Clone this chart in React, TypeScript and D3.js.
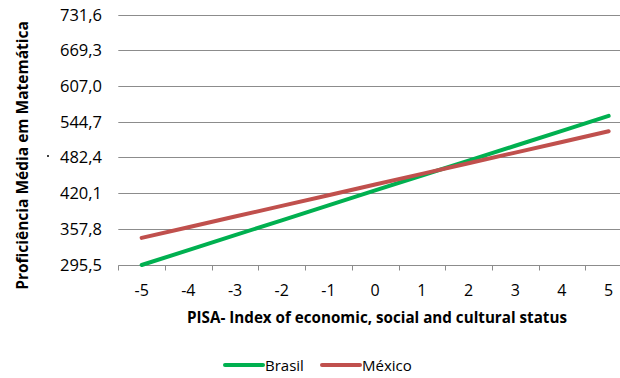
import React, { useEffect, useRef } from "react";
import * as d3 from "d3";

const categories = ["-5", "-4", "-3", "-2", "-1", "0", "1", "2", "3", "4", "5"];
const brasil = [294.6, 320.6, 346.6, 372.6, 398.6, 424.7, 450.7, 476.7, 502.7, 528.7, 554.7];
const mexico = [342.0, 360.6, 379.2, 397.8, 416.4, 435.0, 453.5, 472.1, 490.7, 509.3, 527.9];
const yTicks = [295.5, 357.8, 420.1, 482.4, 544.7, 607.0, 669.3, 731.6];
const seriesNames = ["Brasil", "México"];
const seriesColors = ["#00B050", "#C0504D"];

const W = 620;
const H = 378;
const FONT = "'Open Sans', 'Liberation Sans', sans-serif";

export default function App() {
  const ref = useRef<SVGSVGElement | null>(null);

  useEffect(() => {
    const svg = d3.select(ref.current);
    svg.selectAll("*").remove();

    const left = 118.3;
    const band = 46.7;
    const x = d3
      .scaleBand<string>()
      .domain(categories)
      .range([left, left + band * categories.length])
      .paddingInner(0)
      .paddingOuter(0);
    const y = d3.scaleLinear().domain([yTicks[0], yTicks[yTicks.length - 1]]).range([264.5, 14.5]);

    // gridlines
    svg
      .append("g")
      .selectAll("line")
      .data(yTicks)
      .join("line")
      .attr("x1", left)
      .attr("x2", W)
      .attr("y1", (d) => Math.round(y(d)) + 0.5)
      .attr("y2", (d) => Math.round(y(d)) + 0.5)
      .attr("stroke", "#8c8c8c")
      .attr("stroke-width", 1);

    // y tick labels
    svg
      .append("g")
      .selectAll("text")
      .data(yTicks)
      .join("text")
      .attr("x", 102)
      .attr("y", (d) => y(d) + 6)
      .attr("text-anchor", "end")
      .attr("font-family", FONT)
      .attr("font-size", 16.5)
      .attr("fill", "#000")
      .text((d) => d3.format(".1f")(d).replace(".", ","));

    // x tick marks
    const tickXs = categories.map((c) => x(c) as number);
    tickXs.push(left + band * categories.length);
    const yb = Math.round(y(yTicks[0])) + 0.5;
    svg
      .append("g")
      .selectAll("line")
      .data(tickXs)
      .join("line")
      .attr("x1", (d) => Math.round(d) + 0.5)
      .attr("x2", (d) => Math.round(d) + 0.5)
      .attr("y1", yb)
      .attr("y2", yb + 5)
      .attr("stroke", "#8c8c8c")
      .attr("stroke-width", 1);

    // x tick labels
    svg
      .append("g")
      .selectAll("text")
      .data(categories)
      .join("text")
      .attr("x", (d) => (x(d) as number) + x.bandwidth() / 2)
      .attr("y", 295.5)
      .attr("text-anchor", "middle")
      .attr("font-family", FONT)
      .attr("font-size", 16)
      .attr("fill", "#000")
      .text((d) => d);

    // lines
    const data = [brasil, mexico];
    const line = d3
      .line<number>()
      .x((_, i) => (x(categories[i]) as number) + x.bandwidth() / 2)
      .y((d) => y(d));
    data.forEach((vals, k) => {
      svg
        .append("path")
        .datum(vals)
        .attr("d", line)
        .attr("fill", "none")
        .attr("stroke", seriesColors[k])
        .attr("stroke-width", 4)
        .attr("stroke-linecap", "round")
        .attr("stroke-linejoin", "round");
    });

    // axis titles
    svg
      .append("text")
      .attr("x", 377)
      .attr("y", 322.5)
      .attr("text-anchor", "middle")
      .attr("font-family", FONT)
      .attr("font-size", 15.2)
      .attr("font-weight", "bold")
      .attr("fill", "#000")
      .text("PISA- Index of economic, social and cultural status");

    svg
      .append("text")
      .attr("transform", "translate(27.5,155.5) rotate(-90)")
      .attr("text-anchor", "middle")
      .attr("font-family", FONT)
      .attr("font-size", 15.5)
      .attr("font-weight", "bold")
      .attr("fill", "#000")
      .text("Proficiência  Média em Matemática");

    svg
      .append("circle")
      .attr("cx", 48)
      .attr("cy", 156)
      .attr("r", 1)
      .attr("fill", "#000");

    // legend
    const legendX = [225, 322];
    seriesNames.forEach((name, k) => {
      const g = svg.append("g");
      g.append("line")
        .attr("x1", legendX[k])
        .attr("x2", legendX[k] + 38)
        .attr("y1", 365)
        .attr("y2", 365)
        .attr("stroke", seriesColors[k])
        .attr("stroke-width", 4)
        .attr("stroke-linecap", "round");
      g.append("text")
        .attr("x", legendX[k] + 40)
        .attr("y", 371)
        .attr("font-family", FONT)
        .attr("font-size", 15)
        .attr("fill", "#000")
        .text(name);
    });
  }, []);

  return (
    <svg
      ref={ref}
      width={W}
      height={H}
      style={{ position: "absolute", left: 0, top: 0, background: "#fff" }}
    />
  );
}
